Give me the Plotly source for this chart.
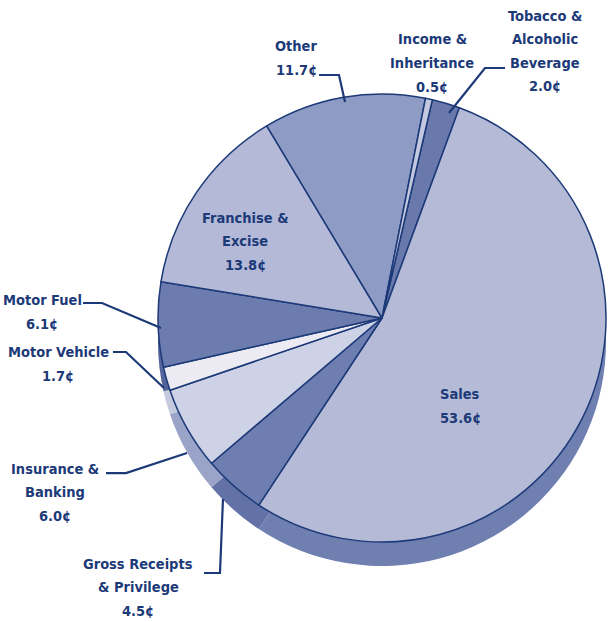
import plotly.graph_objects as go

# Where each state revenue cent comes from (clockwise from the top)
labels = ["Tobacco & Alcoholic Beverage", "Sales", "Gross Receipts & Privilege",
          "Insurance & Banking", "Motor Vehicle", "Motor Fuel",
          "Franchise & Excise", "Other", "Income & Inheritance"]
cents = [2.0, 53.6, 4.5, 6.0, 1.7, 6.1, 13.8, 11.7, 0.5]
label_lines = [["Tobacco &", "Alcoholic", "Beverage", "2.0¢"], ["Sales", "53.6¢"],
               ["Gross Receipts", "& Privilege", "4.5¢"], ["Insurance &", "Banking", "6.0¢"],
               ["Motor Vehicle", "1.7¢"], ["Motor Fuel", "6.1¢"],
               ["Franchise &", "Excise", "13.8¢"], ["Other", "11.7¢"],
               ["Income &", "Inheritance", "0.5¢"]]

top_colors = ["#6a79ab", "#b5bad7", "#6e7eb0", "#ced2e6", "#ecebf3",
              "#6c7cae", "#b3b9d6", "#8e9bc4", "#c3c8e0"]
side_colors = ["#4f5e90", "#6f7fb0", "#6271a6", "#9aa3c8", "#c5cade",
               "#55649a", "#7c8bbb", "#6676a8", "#9099c2"]

W, H = 616, 622
NAVY = "#1c3a78"
FONT = "Liberation Sans Narrow, DejaVu Sans Condensed, sans-serif"


def px(x, y):
    # pixel position -> paper coords
    return x / W, 1 - y / H


# pie centre / radius in pixels
cx, cy, r, depth = 382, 318, 224, 24
x0, _ = px(cx - r, 0)
x1, _ = px(cx + r, 0)
_, y1 = px(0, cy - r)
_, y0 = px(0, cy + r)
dy = depth / H

fig = go.Figure()
# thickness of the pie: same pie, darker, pushed down behind the face
fig.add_trace(go.Pie(labels=labels, values=cents, sort=False, direction="clockwise",
                     rotation=13, textinfo="none", hoverinfo="skip",
                     marker=dict(colors=side_colors, line=dict(width=0)),
                     domain=dict(x=[x0, x1], y=[y0 - dy, y1 - dy]), showlegend=False))
# top face
fig.add_trace(go.Pie(labels=labels, values=cents, sort=False, direction="clockwise",
                     rotation=13, textinfo="none", hoverinfo="label+value",
                     marker=dict(colors=top_colors, line=dict(color=NAVY, width=1.5)),
                     domain=dict(x=[x0, x1], y=[y0, y1]), showlegend=False))

# label positions (pixel centres of each text block), one annotation per line
label_pos = [(545, 51), (460, 406), (138, 587), (55, 492), (58, 364),
             (42, 312), (245, 241), (296, 58), (432, 63)]
LINE_GAP = 23.5
for lines, (lx, ly) in zip(label_lines, label_pos):
    n = len(lines)
    for i, line in enumerate(lines):
        ax, ay = px(lx, ly + (i - (n - 1) / 2) * LINE_GAP)
        fig.add_annotation(x=ax, y=ay, xref="paper", yref="paper", text=line,
                           showarrow=False, xanchor="center", yanchor="middle",
                           font=dict(family=FONT, size=14.5, color=NAVY, weight="bold"))

# leader lines
leaders = [
    [(449, 113), (485, 68), (505, 68)],
    [(319, 75), (339, 75), (345, 102)],
    [(83, 303), (102, 303), (161, 328)],
    [(113, 352), (126, 352), (164, 388)],
    [(106, 473), (126, 473), (187, 453)],
    [(204, 573), (220, 573), (223, 499)],
]
for pts in leaders:
    path = "M " + " L ".join(f"{px(x, y)[0]:.4f},{px(x, y)[1]:.4f}" for x, y in pts)
    fig.add_shape(type="path", path=path, xref="paper", yref="paper",
                  line=dict(color=NAVY, width=2.2))

fig.update_layout(width=W, height=H, margin=dict(l=0, r=0, t=0, b=0),
                  paper_bgcolor="white", plot_bgcolor="white")
# drop the page's default body margin so the figure fills the window exactly
fig.write_html("out.html", config={"displayModeBar": False},
               post_script="document.body.style.margin='0';")
